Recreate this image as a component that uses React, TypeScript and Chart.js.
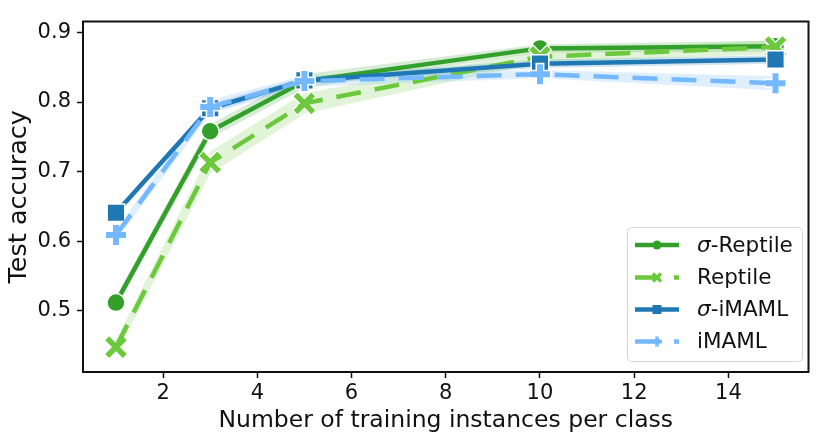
import React, { useEffect, useRef } from 'react';
import { Chart, registerables } from 'chart.js';

Chart.register(...registerables);

// ---- data ----
const xValues = [1, 3, 5, 10, 15];
const sigmaReptile = [0.512, 0.758, 0.830, 0.877, 0.880];
const reptile = [0.448, 0.713, 0.798, 0.865, 0.879];
const sigmaIMAML = [0.641, 0.791, 0.831, 0.855, 0.861];
const iMAML = [0.609, 0.793, 0.830, 0.840, 0.827];

const sigmaReptileErr = [0.008, 0.010, 0.010, 0.006, 0.008];
const reptileErr = [0.010, 0.016, 0.015, 0.008, 0.010];
const sigmaIMAMLErr = [0.004, 0.006, 0.005, 0.006, 0.006];
const iMAMLErr = [0.008, 0.010, 0.008, 0.006, 0.010];

const xTicks = [2, 4, 6, 8, 10, 12, 14];
const yTicks = [0.5, 0.6, 0.7, 0.8, 0.9];

const xTitle = 'Number of training instances per class';
const yTitle = 'Test accuracy';

const FONT = "'DejaVu Sans', sans-serif";

const C_SR = '#33a02c';
const C_R = '#6cc83c';
const C_SI = '#1f78b4';
const C_I = '#74b8ff';

const pts = (ys: number[]) => xValues.map((x, i) => ({ x, y: ys[i] }));
const band = (ys: number[], err: number[], sign: number) =>
  xValues.map((x, i) => ({ x, y: ys[i] + sign * err[i] }));

const DASH = [25, 14];

const legendItems = [
  { sigma: true, label: 'Reptile', color: C_SR, dash: [] as number[], marker: 'circle' },
  { sigma: false, label: 'Reptile', color: C_R, dash: DASH, marker: 'x' },
  { sigma: true, label: 'iMAML', color: C_SI, dash: [] as number[], marker: 'square' },
  { sigma: false, label: 'iMAML', color: C_I, dash: DASH, marker: 'plus' },
];

const frameLegendPlugin = {
  id: 'frameLegend',
  afterDraw(chart: any) {
    const { ctx, chartArea: a } = chart;
    ctx.save();
    ctx.strokeStyle = '#111';
    ctx.lineWidth = 2;
    ctx.strokeRect(a.left, a.top, a.right - a.left, a.bottom - a.top);

    // legend box
    const bx = 627, by = 227, bw = 175, bh = 134;
    ctx.beginPath();
    (ctx as any).roundRect(bx + 0.5, by + 0.5, bw, bh, 4);
    ctx.fillStyle = 'rgba(255,255,255,0.85)';
    ctx.fill();
    ctx.strokeStyle = '#d6d6d6';
    ctx.lineWidth = 1;
    ctx.stroke();

    const rowY = [245, 277.5, 309.5, 341.5];
    legendItems.forEach((it, i) => {
      const y = rowY[i];
      ctx.save();
      ctx.strokeStyle = it.color;
      ctx.lineWidth = 4.5;
      ctx.setLineDash(it.dash);
      ctx.beginPath();
      ctx.moveTo(635, y);
      ctx.lineTo(679, y);
      ctx.stroke();
      ctx.setLineDash([]);
      ctx.fillStyle = it.color;
      const mx = 657;
      if (it.marker === 'circle') {
        ctx.beginPath();
        ctx.arc(mx, y, 4.5, 0, Math.PI * 2);
        ctx.fill();
      } else if (it.marker === 'square') {
        ctx.fillRect(mx - 4.5, y - 4.5, 9, 9);
      } else if (it.marker === 'plus') {
        ctx.lineWidth = 3.5;
        ctx.beginPath();
        ctx.moveTo(mx - 5, y); ctx.lineTo(mx + 5, y);
        ctx.moveTo(mx, y - 5); ctx.lineTo(mx, y + 5);
        ctx.stroke();
      } else {
        ctx.lineWidth = 3.5;
        ctx.beginPath();
        ctx.moveTo(mx - 4, y - 4); ctx.lineTo(mx + 4, y + 4);
        ctx.moveTo(mx + 4, y - 4); ctx.lineTo(mx - 4, y + 4);
        ctx.stroke();
      }
      ctx.restore();

      ctx.fillStyle = '#111';
      ctx.textBaseline = 'middle';
      ctx.textAlign = 'left';
      let tx = 697;
      if (it.sigma) {
        ctx.font = `oblique 21.5px ${FONT}`;
        ctx.fillText('σ', tx, y + 1);
        tx += ctx.measureText('σ').width;
        ctx.font = `21.5px ${FONT}`;
        ctx.fillText('-' + it.label, tx, y + 1);
      } else {
        ctx.font = `21.5px ${FONT}`;
        ctx.fillText(it.label, tx, y + 1);
      }
    });
    ctx.restore();
  },
};

function bandSets(ys: number[], err: number[], rgba: string, order: number) {
  return [
    {
      data: band(ys, err, 1),
      borderWidth: 0,
      pointRadius: 0,
      backgroundColor: rgba,
      fill: '+1',
      order,
    },
    {
      data: band(ys, err, -1),
      borderWidth: 0,
      pointRadius: 0,
      backgroundColor: rgba,
      fill: false,
      order,
    },
  ];
}

export default function App() {
  const ref = useRef<HTMLCanvasElement | null>(null);

  useEffect(() => {
    if (!ref.current) return;
    const tickFont = { family: FONT, size: 21 };

    const chart = new Chart(ref.current, {
      type: 'line',
      data: {
        datasets: [
          ...bandSets(sigmaReptile, sigmaReptileErr, 'rgba(51,160,44,0.2)', 13),
          ...bandSets(reptile, reptileErr, 'rgba(108,200,60,0.2)', 12),
          ...bandSets(sigmaIMAML, sigmaIMAMLErr, 'rgba(31,120,180,0.2)', 11),
          ...bandSets(iMAML, iMAMLErr, 'rgba(116,184,255,0.22)', 10),
          {
            label: 'σ-Reptile',
            data: pts(sigmaReptile),
            borderColor: C_SR,
            borderWidth: 4.5,
            pointStyle: 'circle',
            pointRadius: 9,
            pointBackgroundColor: C_SR,
            pointBorderColor: '#ffffff',
            pointBorderWidth: 1.5,
            fill: false,
            order: 4,
          },
          {
            label: 'Reptile-edge',
            data: pts(reptile),
            showLine: false,
            pointStyle: 'crossRot',
            pointRadius: 13.5,
            pointBorderColor: '#ffffff',
            pointBorderWidth: 8,
            fill: false,
            order: 3.5,
          },
          {
            label: 'Reptile',
            data: pts(reptile),
            borderColor: C_R,
            borderWidth: 4.5,
            borderDash: DASH,
            pointStyle: 'crossRot',
            pointRadius: 12.5,
            pointBorderColor: C_R,
            pointBackgroundColor: C_R,
            pointBorderWidth: 5.5,
            fill: false,
            order: 3,
          },
          {
            label: 'σ-iMAML',
            data: pts(sigmaIMAML),
            borderColor: C_SI,
            borderWidth: 4.5,
            pointStyle: 'rect',
            pointRadius: 12.5,
            pointBackgroundColor: C_SI,
            pointBorderColor: '#ffffff',
            pointBorderWidth: 1.5,
            fill: false,
            order: 2,
          },
          {
            label: 'iMAML-edge',
            data: pts(iMAML),
            showLine: false,
            pointStyle: 'cross',
            pointRadius: 11.5,
            pointBorderColor: '#ffffff',
            pointBorderWidth: 9,
            fill: false,
            order: 1.5,
          },
          {
            label: 'iMAML',
            data: pts(iMAML),
            borderColor: C_I,
            borderWidth: 4.5,
            borderDash: DASH,
            pointStyle: 'cross',
            pointRadius: 10,
            pointBorderColor: C_I,
            pointBackgroundColor: C_I,
            pointBorderWidth: 6,
            fill: false,
            order: 1,
          },
        ] as any,
      },
      options: {
        responsive: false,
        animation: false,
        events: [],
        layout: { padding: { left: 0, right: 17, top: 17, bottom: 0 } },
        plugins: {
          legend: { display: false },
          tooltip: { enabled: false },
        },
        elements: { line: { tension: 0 } },
        scales: {
          x: {
            type: 'linear',
            min: 0.3,
            max: 15.7,
            afterBuildTicks: (s: any) => {
              s.ticks = xTicks.map((v) => ({ value: v }));
            },
            afterFit: (s: any) => {
              s.height = 71;
            },
            ticks: {
              font: tickFont,
              color: '#111',
              padding: 3,
              maxRotation: 0,
              autoSkip: false,
              callback: (v: any) => String(v),
            },
            grid: {
              display: true,
              drawOnChartArea: false,
              drawTicks: true,
              tickLength: 6,
              tickWidth: 1.5,
              tickColor: '#111',
            },
            border: { display: false },
            title: {
              display: true,
              text: xTitle,
              font: { family: FONT, size: 23.5 },
              color: '#111',
              padding: { top: 0, bottom: 8 },
            },
          },
          y: {
            type: 'linear',
            min: 0.4123,
            max: 0.9156,
            afterBuildTicks: (s: any) => {
              s.ticks = yTicks.map((v) => ({ value: v }));
            },
            afterFit: (s: any) => {
              s.width = 83;
            },
            ticks: {
              font: tickFont,
              color: '#111',
              padding: 6,
              autoSkip: false,
              callback: (v: any) => Number(v).toFixed(1),
            },
            grid: {
              display: true,
              drawOnChartArea: false,
              drawTicks: true,
              tickLength: 6,
              tickWidth: 1.5,
              tickColor: '#111',
            },
            border: { display: false },
            title: {
              display: true,
              text: yTitle,
              font: { family: FONT, size: 25.5 },
              color: '#111',
              padding: { top: 4, bottom: 0 },
            },
          },
        },
      } as any,
      plugins: [frameLegendPlugin],
    });
    return () => chart.destroy();
  }, []);

  return (
    <div style={{ position: 'fixed', left: 0, top: 0, width: 830, height: 443, background: '#fff' }}>
      <canvas ref={ref} width={830} height={443} style={{ display: 'block' }} />
    </div>
  );
}
